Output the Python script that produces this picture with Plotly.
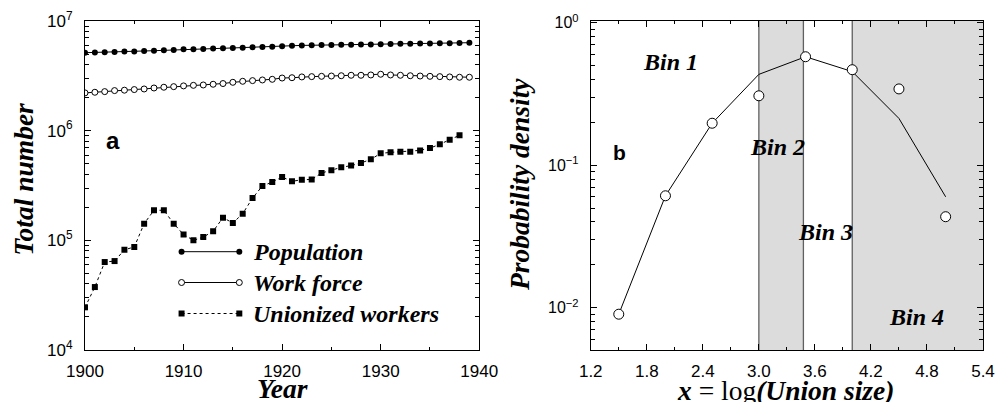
import plotly.graph_objects as go

# ---------------- data: panel a ----------------
years_pop = list(range(1900, 1940))
population = [5.14e6, 5.16e6, 5.19e6, 5.21e6, 5.26e6, 5.28e6, 5.32e6, 5.36e6, 5.40e6, 5.45e6,
              5.52e6, 5.54e6, 5.56e6, 5.60e6, 5.64e6, 5.68e6, 5.71e6, 5.76e6, 5.80e6, 5.83e6,
              5.90e6, 5.95e6, 5.99e6, 6.01e6, 6.04e6, 6.05e6, 6.06e6, 6.08e6, 6.10e6, 6.11e6,
              6.14e6, 6.16e6, 6.19e6, 6.21e6, 6.23e6, 6.25e6, 6.27e6, 6.28e6, 6.31e6, 6.34e6]
years_work = list(range(1900, 1940))
work_force = [2.21e6, 2.24e6, 2.27e6, 2.32e6, 2.34e6, 2.37e6, 2.40e6, 2.45e6, 2.49e6, 2.52e6,
              2.56e6, 2.59e6, 2.61e6, 2.65e6, 2.69e6, 2.76e6, 2.82e6, 2.86e6, 2.90e6, 2.94e6,
              3.02e6, 3.04e6, 3.09e6, 3.11e6, 3.13e6, 3.15e6, 3.17e6, 3.20e6, 3.20e6, 3.22e6,
              3.27e6, 3.22e6, 3.20e6, 3.17e6, 3.15e6, 3.13e6, 3.11e6, 3.09e6, 3.07e6, 3.07e6]
years_union = list(range(1900, 1939))
unionized = [24.5e3, 37.5e3, 63.4e3, 64.7e3, 82e3, 87e3, 142e3, 188e3, 188e3, 142e3,
             113e3, 100e3, 107e3, 121e3, 161e3, 144e3, 175e3, 243e3, 313e3, 340e3,
             378e3, 345e3, 357e3, 359e3, 411e3, 435e3, 463e3, 480e3, 507e3, 548e3,
             621e3, 634e3, 643e3, 643e3, 661e3, 694e3, 750e3, 828e3, 906e3]
series_names = ["Population", "Work force", "Unionized workers"]
left_y_ticks = [1e4, 1e5, 1e6, 1e7]
left_y_ticktext = ["10<sup>4</sup>", "10<sup>5</sup>", "10<sup>6</sup>", "10<sup>7</sup>"]

# ---------------- data: panel b ----------------
log_size = [1.5, 2.0, 2.5, 3.0, 3.5, 4.0, 4.5, 5.0]
density_obs = [0.009, 0.061, 0.197, 0.307, 0.577, 0.468, 0.343, 0.0435]
density_fit = [0.009, 0.061, 0.197, 0.434, 0.577, 0.454, 0.213, 0.060]
bin_edges = [3.0, 3.477, 4.0]
bin_labels = ["Bin 1", "Bin 2", "Bin 3", "Bin 4"]
right_y_ticks = [0.01, 0.1, 1.0]
right_y_ticktext = ["10<sup>\u22122</sup>", "10<sup>\u22121</sup>", "10<sup>0</sup>"]
right_x_ticks = [1.2, 1.8, 2.4, 3.0, 3.6, 4.2, 4.8, 5.4]

# ---------------- layout constants (pixels) ----------------
W, H = 1002, 402
ML, MT, MB = 85, 21, 52
PLOT_RIGHT = 987           # pixel where the right panel ends
MR = 0                     # the page already leaves ~15px at the right
PW, PH = PLOT_RIGHT - ML, H - MT - MB


def px(x):
    return (x - ML) / PW


def py(y):
    return (H - MB - y) / PH


SANS = "Liberation Sans, Arial, sans-serif"
SERIF = "Liberation Serif, Times New Roman, serif"
BLACK = "#000000"

fig = go.Figure()

# panel a traces
fig.add_trace(go.Scatter(x=years_pop, y=population, mode="lines+markers", name=series_names[0],
                         line=dict(color=BLACK, width=1),
                         marker=dict(symbol="circle", size=6, color=BLACK),
                         xaxis="x", yaxis="y", showlegend=False))
fig.add_trace(go.Scatter(x=years_work, y=work_force, mode="lines+markers", name=series_names[1],
                         line=dict(color=BLACK, width=1),
                         marker=dict(symbol="circle", size=6, color="white",
                                     line=dict(color=BLACK, width=1)),
                         xaxis="x", yaxis="y", showlegend=False))
fig.add_trace(go.Scatter(x=years_union, y=unionized, mode="lines+markers", name=series_names[2],
                         line=dict(color=BLACK, width=1, dash="dot"),
                         marker=dict(symbol="square", size=6, color=BLACK),
                         xaxis="x", yaxis="y", showlegend=False))

# panel b traces
fig.add_trace(go.Scatter(x=log_size, y=density_fit, mode="lines", name="fit",
                         line=dict(color=BLACK, width=1),
                         xaxis="x2", yaxis="y2", showlegend=False))
fig.add_trace(go.Scatter(x=log_size, y=density_obs, mode="markers", name="data",
                         marker=dict(symbol="circle", size=10, color="white",
                                     line=dict(color=BLACK, width=1)),
                         xaxis="x2", yaxis="y2", showlegend=False))

# custom legend for panel a (pixel overlay axis)
leg_rows = [251.7, 282.5, 313.5]
leg_x0, leg_x1, leg_text_x = 182, 240, 252
leg_styles = [
    dict(line=dict(color=BLACK, width=1), marker=dict(symbol="circle", size=6, color=BLACK)),
    dict(line=dict(color=BLACK, width=1), marker=dict(symbol="circle", size=6, color="white",
                                                       line=dict(color=BLACK, width=1))),
    dict(line=dict(color=BLACK, width=1, dash="dot"), marker=dict(symbol="square", size=6, color=BLACK)),
]
for name, yrow, st in zip(series_names, leg_rows, leg_styles):
    fig.add_trace(go.Scatter(x=[leg_x0, leg_x1], y=[yrow, yrow], mode="lines+markers",
                             xaxis="x3", yaxis="y3", showlegend=False, hoverinfo="skip", **st))

axis_common = dict(showline=True, linecolor=BLACK, linewidth=1, mirror="ticks",
                   ticks="inside", tickcolor=BLACK, showgrid=False, zeroline=False,
                   tickfont=dict(family=SANS, size=17, color=BLACK))

fig.update_layout(
    width=W, height=H, autosize=False,
    margin=dict(l=ML, r=MR, t=MT, b=MB),
    paper_bgcolor="white", plot_bgcolor="rgba(0,0,0,0)",
    xaxis=dict(domain=[0, px(481)], range=[1900, 1940], tickmode="array",
               tickvals=[1900, 1910, 1920, 1930, 1940], ticklen=6, tickwidth=1,
               minor=dict(ticks="inside", ticklen=3, tickvals=[1905, 1915, 1925, 1935], tickcolor=BLACK),
               anchor="y", ticklabelstandoff=6, **axis_common),
    yaxis=dict(domain=[0, 1], type="log", range=[4, 7], tickmode="array",
               tickvals=left_y_ticks, ticktext=left_y_ticktext, ticklen=6, tickwidth=1,
               minor=dict(ticks="inside", ticklen=4, tickcolor=BLACK,
                          tickvals=[k * 10 ** n for n in (4, 5, 6) for k in range(2, 10)]),
               anchor="x", ticklabelstandoff=8, **axis_common),
    xaxis2=dict(domain=[px(593), 1], range=[1.2, 5.4], tickmode="array",
                tickvals=right_x_ticks, tickformat=".1f", ticklen=6, tickwidth=1,
                minor=dict(ticks="inside", ticklen=3, tickcolor=BLACK,
                           tickvals=[1.5, 2.1, 2.7, 3.3, 3.9, 4.5, 5.1]),
                anchor="y2", ticklabelstandoff=6, **axis_common),
    yaxis2=dict(domain=[0, 1], type="log", range=[-2.297, 0.012], tickmode="array",
                tickvals=right_y_ticks, ticktext=right_y_ticktext, ticklen=6, tickwidth=1,
                minor=dict(ticks="inside", ticklen=4, tickcolor=BLACK,
                           tickvals=[k * 10 ** n for n in (-3, -2, -1) for k in range(2, 10)]),
                anchor="x2", ticklabelstandoff=8, **axis_common),
    xaxis3=dict(domain=[0, 1], range=[ML, PLOT_RIGHT], visible=False, anchor="y3", fixedrange=True),
    yaxis3=dict(domain=[0, 1], range=[H - MB, MT], visible=False, anchor="x3", fixedrange=True),
)
fig.update_layout(yaxis2_tickfont=dict(family=SANS, size=16, color=BLACK))

# shaded bins in panel b
shapes = [
    dict(type="rect", xref="x2", yref="y2 domain", x0=bin_edges[0], x1=bin_edges[1], y0=0, y1=1,
         fillcolor="#DCDCDC", line=dict(width=0), layer="below"),
    dict(type="rect", xref="x2", yref="y2 domain", x0=bin_edges[2], x1=5.4, y0=0, y1=1,
         fillcolor="#DCDCDC", line=dict(width=0), layer="below"),
]
for e in bin_edges:
    shapes.append(dict(type="line", xref="x2", yref="y2 domain", x0=e, x1=e, y0=0, y1=1,
                       line=dict(color="#606060", width=1.3), layer="below"))
fig.update_layout(shapes=shapes)

title_font = dict(family=SERIF, size=27.5, color=BLACK)
label_font = dict(family=SERIF, size=24, color=BLACK)
ann = []
# axis titles
ann.append(dict(text="<b><i>Total number</i></b>", xref="paper", yref="paper", x=px(22.5), y=py(179),
                textangle=-90, showarrow=False, font=title_font, xanchor="center", yanchor="middle"))
ann.append(dict(text="<b><i>Year</i></b>", xref="paper", yref="paper", x=px(283), y=py(388),
                showarrow=False, font=title_font, xanchor="center", yanchor="middle"))
ann.append(dict(text="<b><i>Probability density</i></b>", xref="paper", yref="paper", x=px(521), y=py(185),
                textangle=-90, showarrow=False, font=title_font, xanchor="center", yanchor="middle"))
ann.append(dict(text="<b><i>x</i></b> = log<b><i>(Union size)</i></b>", xref="paper", yref="paper",
                x=px(789), y=py(390), showarrow=False, font=title_font, xanchor="center", yanchor="middle"))
# panel letters
ann.append(dict(text="<b>a</b>", xref="paper", yref="paper", x=px(113), y=py(140), showarrow=False,
                font=dict(family=SANS, size=24, color=BLACK), xanchor="center", yanchor="middle"))
ann.append(dict(text="<b>b</b>", xref="paper", yref="paper", x=px(621.5), y=py(152), showarrow=False,
                font=dict(family=SANS, size=21, color=BLACK), xanchor="center", yanchor="middle"))
# bin labels
bin_label_pos = [(2.05, py(62)), (3.204, py(146.7)), (3.712, py(231.7)), (4.686, py(316.7))]
for lab, (bx, by) in zip(bin_labels, bin_label_pos):
    ann.append(dict(text="<b><i>%s</i></b>" % lab, xref="x2", yref="paper", x=bx, y=by, showarrow=False,
                    font=label_font, xanchor="center", yanchor="middle"))
# legend texts
for name, yrow in zip(series_names, leg_rows):
    ann.append(dict(text="<b><i>%s</i></b>" % name, xref="paper", yref="paper", x=px(leg_text_x), y=py(yrow),
                    showarrow=False, font=label_font, xanchor="left", yanchor="middle"))
fig.update_layout(annotations=ann)

post = (
    "document.body.style.margin='0px';"
    "document.body.style.overflow='hidden';"
    "document.documentElement.style.overflow='hidden';"
)
fig.write_html("out.html", config={"responsive": False, "displayModeBar": False}, post_script=post)
